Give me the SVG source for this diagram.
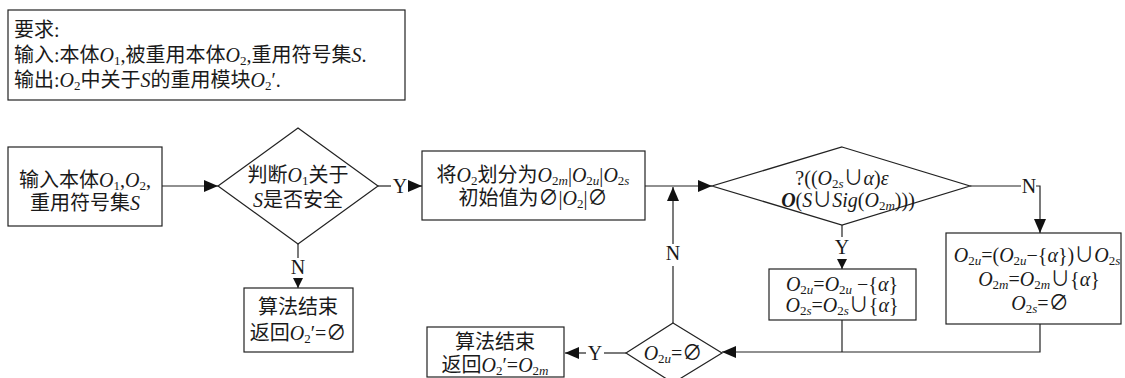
<svg xmlns="http://www.w3.org/2000/svg" width="1125" height="378" viewBox="0 0 1125 378">
<style>
text{font-family:"Liberation Serif","Noto Sans CJK SC","DejaVu Serif",serif;font-size:20px;fill:#1a1a1a}
.c{text-anchor:middle}
.i{font-style:italic}
.b{font-weight:bold;font-style:italic}
.sb{font-size:13px}
.box{fill:#fff;stroke:#222;stroke-width:1.2}
.ln{fill:none;stroke:#222;stroke-width:1.2}
</style>
<defs>
<marker id="ah" markerUnits="userSpaceOnUse" markerWidth="14" markerHeight="12" refX="14" refY="6" orient="auto"><path d="M0,0L14,6L0,12z" fill="#111"/></marker>
<marker id="as" markerUnits="userSpaceOnUse" markerWidth="10" markerHeight="10" refX="10" refY="5" orient="auto"><path d="M0,0L10,5L0,10z" fill="#111"/></marker>
</defs>
<g id="requirements">
<rect class="box" x="8" y="10" width="397" height="90"/>
<text x="14" y="37">要求:</text>
<text x="14" y="62">输入:本体<tspan class="i">O</tspan><tspan class="sb" dy="3">1</tspan><tspan dy="-3">,被重用本体</tspan><tspan class="i">O</tspan><tspan class="sb" dy="3">2</tspan><tspan dy="-3">,重用符号集</tspan><tspan class="i">S</tspan>.</text>
<text x="14" y="87">输出:<tspan class="i">O</tspan><tspan class="sb" dy="3">2</tspan><tspan dy="-3">中关于</tspan><tspan class="i">S</tspan>的重用模块<tspan class="i">O</tspan><tspan class="sb" dy="3">2</tspan><tspan dy="-3">′.</tspan></text>
</g>
<g id="connectors">
<path class="ln" d="M162,186H218" marker-end="url(#ah)"/>
<path class="ln" d="M378,186H391"/>
<text class="c" x="400" y="193">Y</text>
<path class="ln" d="M408,186H422" marker-end="url(#ah)"/>
<path class="ln" d="M298,244V258"/>
<text class="c" x="298" y="274">N</text>
<path class="ln" d="M298,278V288" marker-end="url(#as)"/>
<path class="ln" d="M645,186H712" marker-end="url(#ah)"/>
<path class="ln" d="M673,323V266"/>
<text class="c" x="673" y="260">N</text>
<path class="ln" d="M673,244V187" marker-end="url(#ah)"/>
<path class="ln" d="M842,225V237"/>
<text class="c" x="842" y="254">Y</text>
<path class="ln" d="M842,259V269" marker-end="url(#as)"/>
<path class="ln" d="M970,186H1021"/>
<text class="c" x="1029" y="193">N</text>
<path class="ln" d="M1036,186H1040V233" marker-end="url(#ah)"/>
<path class="ln" d="M1040,324V352H722" marker-end="url(#ah)"/>
<path class="ln" d="M842,320V352"/>
<path class="ln" d="M626,353H604"/>
<text class="c" x="595" y="360">Y</text>
<path class="ln" d="M586,353H565" marker-end="url(#ah)"/>
</g>
<g id="input">
<rect class="box" x="8" y="147" width="154" height="79"/>
<text class="c" x="85" y="187">输入本体<tspan class="i">O</tspan><tspan class="sb" dy="3">1</tspan><tspan dy="-3">,</tspan><tspan class="i">O</tspan><tspan class="sb" dy="3">2</tspan><tspan dy="-3">,</tspan></text>
<text class="c" x="85" y="210">重用符号集<tspan class="i">S</tspan></text>
</g>
<g id="check-safe">
<path class="box" d="M298,128L378,186L298,244L218,186z"/>
<text class="c" x="298" y="182">判断<tspan class="i">O</tspan><tspan class="sb" dy="3">1</tspan><tspan dy="-3">关于</tspan></text>
<text class="c" x="298" y="207"><tspan class="i">S</tspan>是否安全</text>
</g>
<g id="end1">
<rect class="box" x="244" y="288" width="109" height="64"/>
<text class="c" x="298" y="314">算法结束</text>
<text class="c" x="298" y="340">返回<tspan class="i">O</tspan><tspan class="sb" dy="3">2</tspan><tspan dy="-3">′=∅</tspan></text>
</g>
<g id="partition">
<rect class="box" x="422" y="151" width="223" height="69"/>
<text class="c" x="533" y="182">将<tspan class="i">O</tspan><tspan class="sb" dy="3">2</tspan><tspan dy="-3">划分为</tspan><tspan class="i">O</tspan><tspan class="sb" dy="3">2<tspan class="i">m</tspan></tspan><tspan dy="-3">|</tspan><tspan class="i">O</tspan><tspan class="sb" dy="3">2<tspan class="i">u</tspan></tspan><tspan dy="-3">|</tspan><tspan class="i">O</tspan><tspan class="sb" dy="3">2<tspan class="i">s</tspan></tspan></text>
<text class="c" x="533" y="205">初始值为∅|<tspan class="i">O</tspan><tspan class="sb" dy="3">2</tspan><tspan dy="-3">|∅</tspan></text>
</g>
<g id="check-module">
<path class="box" d="M842,147L970,186L842,225L712,186z"/>
<text class="c" x="842" y="185">?((<tspan class="i">O</tspan><tspan class="sb" dy="3">2<tspan class="i">s</tspan></tspan><tspan dy="-3">∪</tspan><tspan class="i">α</tspan>)<tspan class="i">ε</tspan></text>
<text class="c" x="848" y="207"><tspan class="b">O</tspan>(<tspan class="i">S</tspan>∪<tspan class="i">Sig</tspan>(<tspan class="i">O</tspan><tspan class="sb" dy="3">2<tspan class="i">m</tspan></tspan><tspan dy="-3">)))</tspan></text>
</g>
<g id="move-to-s">
<rect class="box" x="769" y="269" width="147" height="51"/>
<text class="c" x="842" y="291"><tspan class="i">O</tspan><tspan class="sb" dy="3">2<tspan class="i">u</tspan></tspan><tspan dy="-3">=</tspan><tspan class="i">O</tspan><tspan class="sb" dy="3">2<tspan class="i">u</tspan></tspan><tspan dy="-3"> −{</tspan><tspan class="i">α</tspan>}</text>
<text class="c" x="842" y="312"><tspan class="i">O</tspan><tspan class="sb" dy="3">2<tspan class="i">s</tspan></tspan><tspan dy="-3">=</tspan><tspan class="i">O</tspan><tspan class="sb" dy="3">2<tspan class="i">s</tspan></tspan><tspan dy="-3">∪{</tspan><tspan class="i">α</tspan>}</text>
</g>
<g id="move-to-m">
<rect class="box" x="946" y="233" width="175" height="91"/>
<text class="c" x="1037" y="262"><tspan class="i">O</tspan><tspan class="sb" dy="3">2<tspan class="i">u</tspan></tspan><tspan dy="-3">=(</tspan><tspan class="i">O</tspan><tspan class="sb" dy="3">2<tspan class="i">u</tspan></tspan><tspan dy="-3">−{</tspan><tspan class="i">α</tspan>})∪<tspan class="i">O</tspan><tspan class="sb" dy="3">2<tspan class="i">s</tspan></tspan></text>
<text class="c" x="1039" y="286"><tspan class="i">O</tspan><tspan class="sb" dy="3">2<tspan class="i">m</tspan></tspan><tspan dy="-3">=</tspan><tspan class="i">O</tspan><tspan class="sb" dy="3">2<tspan class="i">m</tspan></tspan><tspan dy="-3">∪{</tspan><tspan class="i">α</tspan>}</text>
<text class="c" x="1040" y="310"><tspan class="i">O</tspan><tspan class="sb" dy="3">2<tspan class="i">s</tspan></tspan><tspan dy="-3">=∅</tspan></text>
</g>
<g id="check-empty">
<path class="box" d="M673,323L722,353L673,383L626,353z"/>
<text class="c" x="673" y="360"><tspan class="i">O</tspan><tspan class="sb" dy="3">2<tspan class="i">u</tspan></tspan><tspan dy="-3">=∅</tspan></text>
</g>
<g id="end2">
<rect class="box" x="427" y="327" width="137" height="50"/>
<text class="c" x="495" y="349">算法结束</text>
<text class="c" x="495" y="372">返回<tspan class="i">O</tspan><tspan class="sb" dy="3">2</tspan><tspan dy="-3">′=</tspan><tspan class="i">O</tspan><tspan class="sb" dy="3">2<tspan class="i">m</tspan></tspan></text>
</g>
</svg>
